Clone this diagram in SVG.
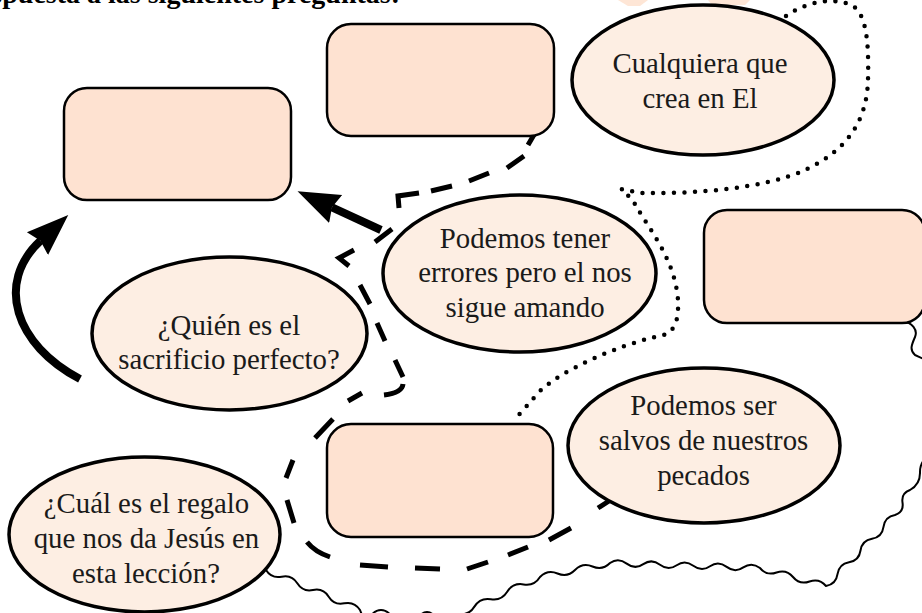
<svg xmlns="http://www.w3.org/2000/svg" width="922" height="613" viewBox="0 0 922 613">
  <style>
    .box { fill: #FEE2D1; stroke: #000; stroke-width: 2.5; }
    .oval { fill: #FDEEE3; stroke: #000; stroke-width: 3.5; }
    .t { font-family: "Liberation Serif", "Times New Roman", serif; font-size: 28.8px; fill: #1a1a1a; text-anchor: middle; }
    .head { font-family: "Liberation Serif", "Times New Roman", serif; font-size: 28px; font-weight: bold; fill: #000; }
    .thick { fill: none; stroke: #000; stroke-width: 8; stroke-linecap: butt; }
    .dash { fill: none; stroke: #000; stroke-width: 5; stroke-linecap: butt; stroke-linejoin: miter; }
    .dot { fill: none; stroke: #000; stroke-width: 4.5; stroke-linecap: round; stroke-dasharray: 0 10.5; }
    .wave { fill: none; stroke: #000; stroke-width: 2; stroke-linejoin: round; }
  </style>
  <defs>
    <marker id="ah" markerUnits="userSpaceOnUse" markerWidth="46" markerHeight="40" viewBox="0 -20 46 40" refX="4" refY="0" orient="auto">
      <path d="M42,0 L0,-15.5 L4,0 L0,15.5 Z" fill="#000"/>
    </marker>
  </defs>
  <rect width="922" height="613" fill="#fff"/>

  <!-- cut-off header and faint decoration at top -->
  <text class="head" x="-33" y="2.5">respuesta a las siguientes preguntas:</text>
  <path d="M618,0 L648,0 L640,6 L628,6 Z M708,0 L750,0 L745,5 L712,5 Z" fill="#FEE6D6"/>

  <g id="connectors">
    <!-- dotted line -->
    <path class="dot" d="M786,16 C805,2 835,-4 853,6 C866,15 869,40 868,80 C867,120 848,150 805,170 C765,188 700,194 640,193 L621,189 C628,195 633,200 636,206 C650,230 675,260 678,300 C679,325 673,335 655,337 C620,345 560,370 538,393 C528,405 520,413 514,421"/>
    <!-- dashed line -->
    <path class="dash" d="M535,133 L528,145 M524,156 L507,168 M489,173 L469,181 M452,186 L431,191 M419,193 L398,196 L399,208 M392,229 L375,242 M354,250 L339,258 L349,266 M360,285 L370,304 M377,323 L385,341 M395,360 L403,377 M403,384 Q402,393 384,395 M362,393 L348,401 M333,419 L315,438 M293,460 L286,478 M287,500 L294,523 M307,542 Q315,552 330,557 M360,565 L388,567 M415,568 L440,569 M467,569 L488,562 M508,555 L528,547 M549,540 L571,528 M598,508 L609,501"/>
    <!-- wavy line -->
    <path class="wave" d="M253,568 L266,570 Q271.5,578.8 281.7,576.7 Q291.8,574.5 297.3,583.3 Q302.9,592.2 313,590 Q323.1,587.8 328.7,596.7 Q334.2,605.5 344.3,603.3 Q354.5,601.2 360,610 L366,625 L370,625 L370,621 A11,11 0 0 1 392,621 L392,625 L419,625 L419,620 A8,8 0 0 1 435,620 L435,625 L455,625 L458,614 Q468.7,615.8 474.4,606.6 Q480.1,597.4 490.8,599.2 Q501.5,601 507.2,591.8 Q512.9,582.6 523.6,584.4 Q534.3,586.2 540,577 Q547.6,569.4 557.5,573.5 Q567.5,577.7 575,570 Q582.6,562.4 592.5,566.5 Q602.5,570.7 610,563 Q618.3,557.3 626.7,563.6 Q635,569.9 643.3,564.1 Q651.7,558.4 660,564.7 Q668.3,571 676.7,565.2 Q685,559.5 693.3,565.8 Q701.7,572.1 710,566.3 Q718.3,560.6 726.7,566.9 Q735,573.2 743.3,567.4 Q751.7,561.7 760,568 Q766.7,576.1 776.5,572.5 Q786.4,569 793,577 Q799.7,585.1 809.5,581.5 Q819.4,578 826,586 Q836.1,584.3 837.5,574.2 Q839,564.1 849,562.3 Q859.1,560.6 860.5,550.5 Q862,540.4 872,538.7 Q882.1,537 883.5,526.8 Q885,516.7 895,515 Q904,511.9 902.5,502.5 Q901.1,493.2 910,490 Q920.2,484.3 920,472.5 Q919.8,460.8 930,455"/>
    <path class="wave" d="M903,322 C912,322 918,330 915,337 C912,344 909,350 915,355 L930,362"/>
    <!-- thick arrows -->
    <path class="thick" d="M381,230 L332,207.3" marker-end="url(#ah)"/>
    <path class="thick" d="M80,379 C15,345 -5,283 40.4,240.8" marker-end="url(#ah)"/>
  </g>

  <g id="box-top-left">
    <rect class="box" x="64" y="88" width="227" height="112" rx="23"/>
  </g>
  <g id="box-top-middle">
    <rect class="box" x="327" y="24" width="227" height="112" rx="24"/>
  </g>
  <g id="box-right">
    <rect class="box" x="704" y="210" width="221" height="113" rx="23"/>
  </g>
  <g id="box-bottom-middle">
    <rect class="box" x="327" y="424" width="226" height="113" rx="24"/>
  </g>

  <g id="oval-cualquiera">
    <ellipse class="oval" cx="703" cy="80" rx="131" ry="75"/>
    <text class="t" x="700" y="73">Cualquiera que</text>
    <text class="t" x="700" y="108">crea en El</text>
  </g>
  <g id="oval-errores">
    <ellipse class="oval" cx="519.5" cy="273.5" rx="136.5" ry="78.5"/>
    <text class="t" x="525" y="248">Podemos tener</text>
    <text class="t" x="525" y="282">errores pero el nos</text>
    <text class="t" x="525" y="317">sigue amando</text>
  </g>
  <g id="oval-sacrificio">
    <ellipse class="oval" cx="229.5" cy="333.5" rx="137.5" ry="76.5"/>
    <text class="t" x="229" y="335">¿Quién es el</text>
    <text class="t" x="229" y="369">sacrificio perfecto?</text>
  </g>
  <g id="oval-salvos">
    <ellipse class="oval" cx="704" cy="445.5" rx="136" ry="77.5"/>
    <text class="t" x="703.5" y="415">Podemos ser</text>
    <text class="t" x="703.5" y="450">salvos de nuestros</text>
    <text class="t" x="703.5" y="485">pecados</text>
  </g>
  <g id="oval-regalo">
    <ellipse class="oval" cx="144.5" cy="534.5" rx="135.5" ry="77.5"/>
    <text class="t" x="146.5" y="513">¿Cuál es el regalo</text>
    <text class="t" x="146.5" y="548">que nos da Jesús en</text>
    <text class="t" x="146" y="583">esta lección?</text>
  </g>
</svg>
